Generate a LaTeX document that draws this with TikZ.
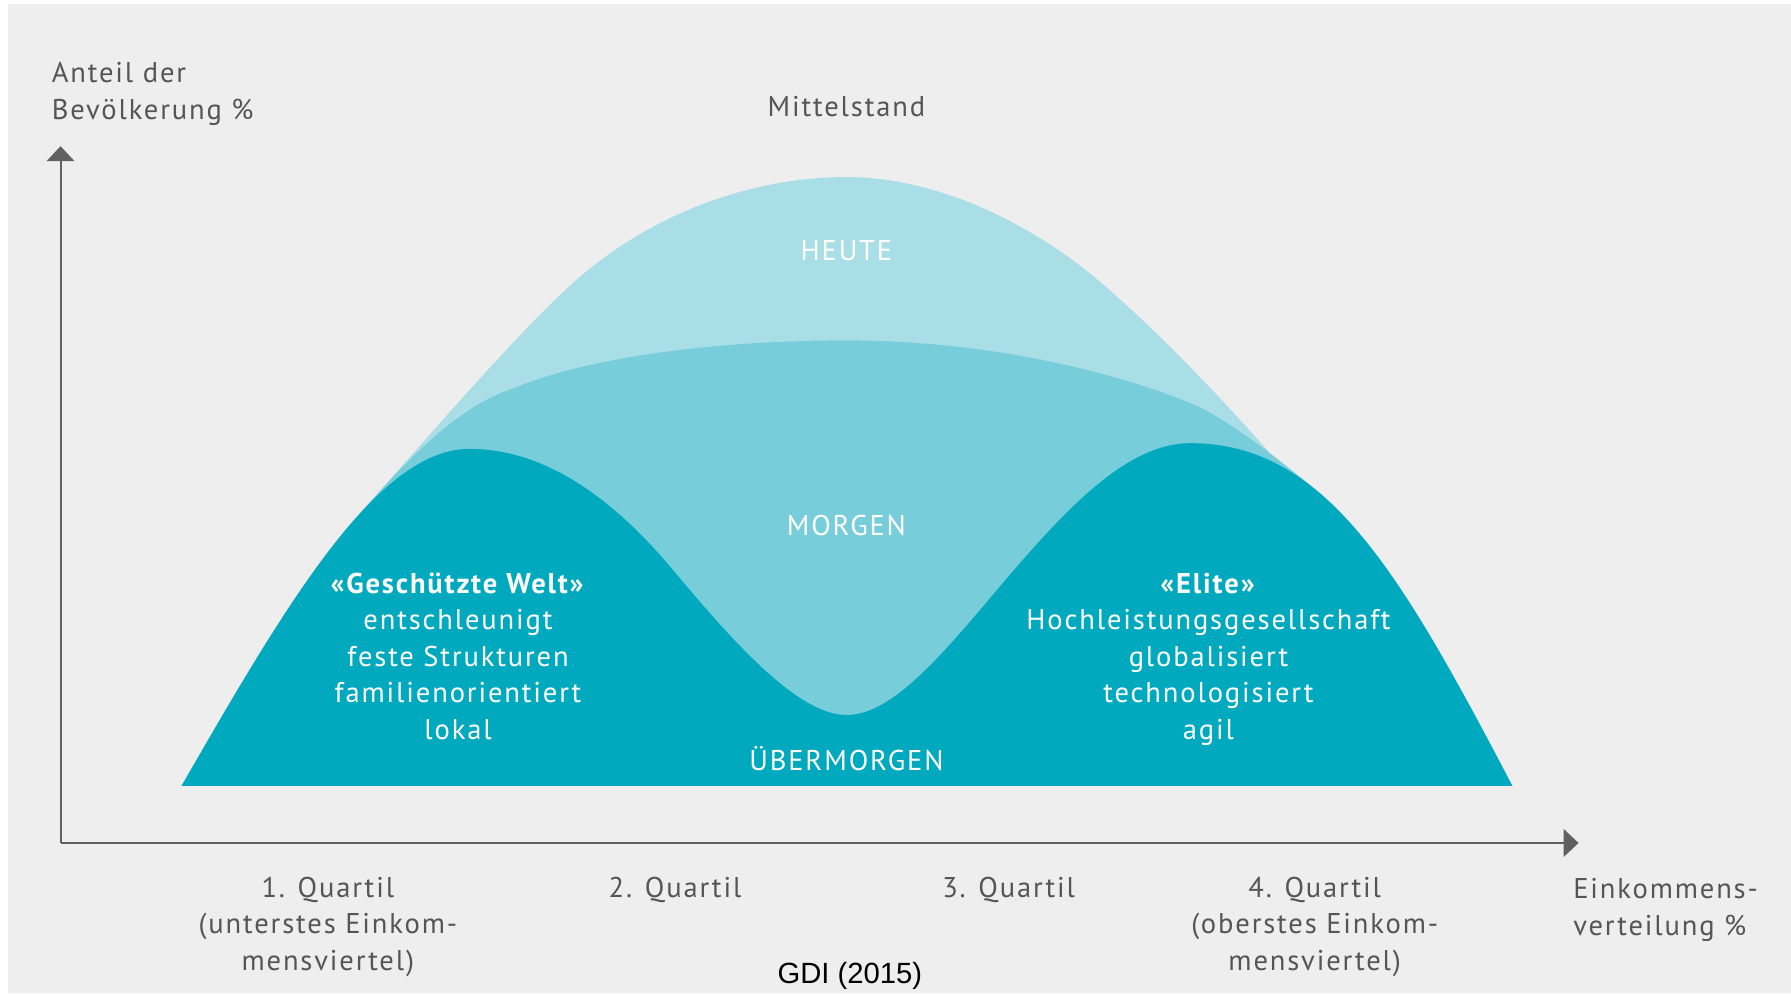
\documentclass[tikz,border=0pt]{standalone}
\usepackage{fontspec}
\setmainfont{PT Sans}[LetterSpace=6.5]
\newfontfamily\gdifont{Liberation Sans}
\usetikzlibrary{arrows.meta}
\definecolor{bg}{HTML}{EEEEEE}
\definecolor{cheute}{HTML}{A9DEE7}
\definecolor{cmorgen}{HTML}{77CEDA}
\definecolor{cdark}{HTML}{00A9BE}
\definecolor{axisgray}{HTML}{606060}
\definecolor{txtgray}{HTML}{555555}
\tikzset{
  lbl/.style={font=\fontsize{12.5}{16}\selectfont, text=txtgray, inner sep=0pt, align=center},
  wlbl/.style={lbl, text=white},
  axisline/.style={draw=axisgray, line width=0.9pt, -{Triangle[width=12pt,length=6.5pt]}},
}
\begin{document}
\begin{tikzpicture}[x=0.5pt,y=-0.5pt]
\useasboundingbox (0,0) rectangle (1568,870.2);
\fill[white] (0,0) rectangle (1568,870.2);
\fill[bg] (7,3.5) rectangle (1568,869.5);
% HEUTE (outer envelope)
\fill[cheute] (159,688) .. controls (213.6,593.2) and (264.2,506.0) .. (313.5,451.3)
  .. controls (360,400) and (440,305) .. (497,252)
  .. controls (560,193) and (650,155) .. (741,155)
  .. controls (825,155) and (910,200) .. (968,251)
  .. controls (1020,296) and (1075,355) .. (1112,397)
  -- (1150.2,427.4)
  .. controls (1209.7,475.3) and (1259.65,565.15) .. (1324,688) -- cycle;
% MORGEN
\fill[cmorgen] (159,688) .. controls (213.6,593.2) and (264.2,506.0) .. (313.5,451.3)
  .. controls (345,416) and (395,358) .. (447,341)
  .. controls (520,310) and (640,298) .. (741,298)
  .. controls (850,298) and (960,320) .. (1040,352)
  .. controls (1075,366) and (1120,403) .. (1150.2,427.4)
  .. controls (1209.7,475.3) and (1259.65,565.15) .. (1324,688) -- cycle;
% UEBERMORGEN
\fill[cdark] (159,688) .. controls (250,530) and (330,393) .. (411,393)
  .. controls (480,393) and (540,440) .. (590,500)
  .. controls (645,566) and (700,626) .. (741,626)
  .. controls (782,626) and (826,572) .. (880,508)
  .. controls (930,450) and (985,388) .. (1042,388)
  .. controls (1160,388) and (1225,499) .. (1324,688) -- cycle;
% axes
\coordinate (origin) at (53,738);
\coordinate (xend) at (1382,738);
\coordinate (yend) at (53,128);
\draw[axisline] (origin) -- (xend);
\draw[axisline] (origin) -- (yend);
% labels
\node[lbl, align=left, anchor=west] (ylabel) at (45,82) {Anteil der\\Bevölkerung \%};
\node[lbl] (mittel) at (741,93) {Mittelstand};
\node[wlbl] (heute) at (741,219) {HEUTE};
\node[wlbl] (morgen) at (741,460) {MORGEN};
\node[wlbl] (uebermorgen) at (741,664.5) {ÜBERMORGEN};
\node[wlbl] (gw) at (401,574.5) {\textbf{«Geschützte Welt»}\\entschleunigt\\feste Strukturen\\familienorientiert\\lokal};
\node[wlbl] (elite) at (1058,577) {\textbf{«Elite»}\\Hochleistungsgesellschaft\\globalisiert\\technologisiert\\agil};
\node[lbl] (q1) at (287,811.5) {1. Quartil\\(unterstes Einkom-\\mensviertel)};
\node[lbl] (q2) at (591,779) {2. Quartil};
\node[lbl] (q3) at (883,779) {3. Quartil};
\node[lbl] (q4) at (1151,811.5) {4. Quartil\\(oberstes Einkom-\\mensviertel)};
\node[lbl, align=left, anchor=west] (xlabel) at (1377,796.5) {Einkommens-\\verteilung \%};
\node[font=\gdifont\fontsize{12.8}{15}\selectfont, inner sep=0pt, text=black] (src) at (744,854) {GDI (2015)};
\end{tikzpicture}
\end{document}
